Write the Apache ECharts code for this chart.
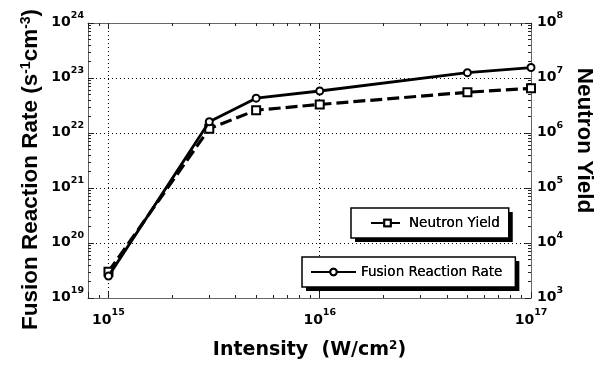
<!DOCTYPE html>
<html><head><meta charset="utf-8">
<script src="https://cdn.jsdelivr.net/npm/echarts@6/dist/echarts.min.js"></script>
<style>html,body{margin:0;padding:0;background:#fff}#c{width:611px;height:368px}</style>
</head><body><div id="c"></div>
<script>
// ---- data ----
const intensity = [1e15, 3e15, 5e15, 1e16, 5e16, 1e17];
const fusionRate = [2.5e19, 1.6e22, 4.3e22, 5.8e22, 1.25e23, 1.55e23];
const neutronYield = [3.0e3, 1.2e6, 2.6e6, 3.3e6, 5.5e6, 6.5e6];
const minorMultipliers = [2, 3, 4, 5, 6, 7, 8, 9];
const xMinorDecades = [1e14, 1e15, 1e16];
const yLeftMinorDecades = [1e19, 1e20, 1e21, 1e22, 1e23];
const yRightMinorDecades = [1e3, 1e4, 1e5, 1e6, 1e7];

function minorTicks(decades) {
  const out = [];
  decades.forEach(d => minorMultipliers.forEach(m => out.push(d * m)));
  return out;
}
const xMinorTicks = minorTicks(xMinorDecades);
const yLeftMinorTicks = minorTicks(yLeftMinorDecades);
const yRightMinorTicks = minorTicks(yRightMinorDecades);

const AX = '#666';
const TK = '#222';
const labelRich = {
  b: {fontFamily: 'DejaVu Sans', fontWeight: 'bold', fontSize: 14, color: '#000', padding: [5, 0, 6, 0], verticalAlign: 'bottom'},
  s: {fontFamily: 'DejaVu Sans', fontWeight: 'bold', fontSize: 9.5, color: '#000', verticalAlign: 'top'}
};
function powLabel(v) {
  const l = Math.log10(v);
  const e = Math.round(l);
  if (Math.abs(l - e) > 0.01) return '';
  return '{b|10}{s|' + e + '}';
}
function minorAxis(pos, min, max, ticks) {
  return {
    type: 'log', logBase: 10, min: min, max: max, position: pos,
    axisLine: {show: false}, axisLabel: {show: false}, splitLine: {show: false},
    axisTick: {show: true, inside: true, length: 3, customValues: ticks, lineStyle: {color: TK, width: 1}}
  };
}
function legendPair(name, left, top, padding, itemWidth) {
  const common = {
    data: [name], left: left, top: top, orient: 'horizontal', borderRadius: 0,
    padding: padding, itemWidth: itemWidth, itemHeight: 8, itemGap: 5, selectedMode: false,
    textStyle: {fontFamily: 'DejaVu Sans', fontSize: 13.5, color: '#000'}
  };
  return [
    Object.assign({}, common, {
      z: 4, backgroundColor: '#fff', borderWidth: 0,
      shadowColor: '#000', shadowOffsetX: 4, shadowOffsetY: 4, shadowBlur: 0
    }),
    Object.assign({}, common, {
      z: 5, backgroundColor: 'rgba(0,0,0,0)', borderColor: '#000', borderWidth: 1.5
    })
  ];
}

const chart = echarts.init(document.getElementById('c'), null, {renderer: 'canvas'});
chart.setOption({
  animation: false,
  backgroundColor: '#fff',
  textStyle: {fontFamily: 'Liberation Sans'},
  grid: {left: 88, right: 80, top: 23, bottom: 70, show: false},
  xAxis: [
    {
      type: 'log', logBase: 10, min: 8e14, max: 1e17, position: 'bottom',
      axisLine: {show: true, lineStyle: {color: AX, width: 1}},
      axisTick: {show: true, inside: true, length: 6, lineStyle: {color: TK}},
      axisLabel: {formatter: powLabel, rich: labelRich, margin: 10, showMinLabel: true, showMaxLabel: true},
      splitLine: {show: true, lineStyle: {color: '#000', width: 1, type: [1, 3]}},
      name: 'Intensity  (W/cm{sp|2})', nameLocation: 'middle', nameGap: 42, nameMoveOverlap: false,
      nameTextStyle: {fontFamily: 'DejaVu Sans', fontWeight: 'bold', fontSize: 19, color: '#000',
        rich: {sp: {fontFamily: 'DejaVu Sans', fontWeight: 'bold', fontSize: 12, color: '#000', verticalAlign: 'top', padding: [0, 0, 8, 0]}}}
    },
    minorAxis('bottom', 8e14, 1e17, xMinorTicks),
    {
      type: 'log', logBase: 10, min: 8e14, max: 1e17, position: 'top',
      axisLine: {show: true, lineStyle: {color: AX, width: 1}},
      axisTick: {show: true, inside: true, length: 6, lineStyle: {color: TK}},
      axisLabel: {show: false}, splitLine: {show: false}
    },
    minorAxis('top', 8e14, 1e17, xMinorTicks)
  ],
  yAxis: [
    {
      type: 'log', logBase: 10, min: 1e19, max: 1e24, position: 'left',
      axisLine: {show: true, lineStyle: {color: AX, width: 1}},
      axisTick: {show: true, inside: true, length: 6, lineStyle: {color: TK}},
      axisLabel: {formatter: powLabel, rich: labelRich, margin: 4, showMinLabel: true, showMaxLabel: true},
      splitLine: {show: true, lineStyle: {color: '#000', width: 1, type: [1, 3]}},
      name: 'Fusion Reaction Rate (s{sp|-1}cm{sp|-3})', nameLocation: 'middle', nameGap: 46, nameRotate: 90, nameMoveOverlap: false,
      nameTextStyle: {fontFamily: 'Liberation Sans', fontWeight: 'bold', fontSize: 22.5, color: '#000', padding: [0, 18, 0, 0],
        rich: {sp: {fontFamily: 'Liberation Sans', fontWeight: 'bold', fontSize: 14, color: '#000', verticalAlign: 'top', padding: [0, 0, 9, 0]}}}
    },
    {
      type: 'log', logBase: 10, min: 1e3, max: 1e8, position: 'right',
      axisLine: {show: true, lineStyle: {color: AX, width: 1}},
      axisTick: {show: true, inside: true, length: 6, lineStyle: {color: TK}},
      axisLabel: {formatter: powLabel, rich: labelRich, margin: 6, showMinLabel: true, showMaxLabel: true},
      splitLine: {show: false},
      name: 'Neutron Yield', nameLocation: 'middle', nameGap: 42, nameRotate: -90, nameMoveOverlap: false,
      nameTextStyle: {fontFamily: 'Liberation Sans', fontWeight: 'bold', fontSize: 22.5, color: '#000', padding: [0, 40, 0, 0]}
    },
    minorAxis('left', 1e19, 1e24, yLeftMinorTicks),
    minorAxis('right', 1e3, 1e8, yRightMinorTicks)
  ],
  legend: [].concat(
    legendPair('Neutron Yield', 351, 208, [8, 9, 8, 19], 33),
    legendPair('Fusion Reaction Rate', 302, 257, [8, 13, 8, 8], 45)
  ),
  series: [
    {
      name: 'Fusion Reaction Rate', type: 'line', xAxisIndex: 0, yAxisIndex: 0, clip: false,
      data: intensity.map((x, i) => [x, fusionRate[i]]),
      symbol: 'emptyCircle', symbolSize: 7,
      lineStyle: {color: '#000', width: 2.8, type: 'solid'},
      itemStyle: {color: '#000', borderColor: '#000', borderWidth: 1}, z: 3
    },
    {
      name: 'Neutron Yield', type: 'line', xAxisIndex: 0, yAxisIndex: 1, clip: false,
      data: intensity.map((x, i) => [x, neutronYield[i]]),
      symbol: 'emptyRect', symbolSize: 8,
      lineStyle: {color: '#000', width: 3.2, type: [12, 5]},
      itemStyle: {color: '#000', borderColor: '#000', borderWidth: 1}, z: 2
    }
  ]
});
</script>
</body></html>
